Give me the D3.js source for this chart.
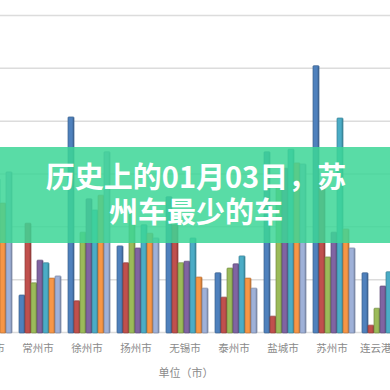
<!DOCTYPE html>
<html>
<head>
<meta charset="utf-8">
<script src="https://cdn.jsdelivr.net/npm/d3@7"></script>
<style>
  body { margin: 0; background: #fff; }
  svg { display: block; }
</style>
</head>
<body>
<svg id="chart"></svg>
<script>
var width = 390;
var height = 390;

// categories along the x axis (first and last are cut off in the picture)
var categories = ["南京市", "常州市", "徐州市", "扬州市", "无锡市", "泰州市", "盐城市", "苏州市", "连云港市"];
var seriesNames = ["系列1", "系列2", "系列3", "系列4", "系列5", "系列6", "系列7"];
var seriesColors = ["#4f81bd", "#c0504d", "#9bbb59", "#8064a2", "#4bacc6", "#f79646", "#9fb1d8"];

var s1 = [250, 70, 407, 163, 256, 112, 341, 504, 112];
var s2 = [120, 206, 59, 131, 203, 66, 30, 278, 13];
var s3 = [200, 93, 189, 227, 131, 121, 278, 142, 45];
var s4 = [180, 136, 252, 159, 134, 129, 310, 189, 87];
var s5 = [290, 131, 231, 203, 178, 144, 346, 405, 114];
var s6 = [244, 102, 259, 187, 104, 102, 320, 195, 130];
var s7 = [303, 106, 341, 178, 83, 83, 318, 159, 100];
var seriesValues = [s1, s2, s3, s4, s5, s6, s7];

var yTicks = [0, 100, 200, 300, 400, 500, 600];
var unitLabel = "单位（市）";
var titleLines = ["历史上的01月03日，苏", "州车最少的车"];

var svg = d3.select("#chart")
    .attr("width", width)
    .attr("height", height);

var x = d3.scaleBand()
    .domain(categories)
    .range([-33.5, 407.5]);

var xInner = d3.scaleBand()
    .domain(seriesNames)
    .range([3.5, x.bandwidth() - 3.5]);

var y = d3.scaleLinear()
    .domain([0, 600])
    .range([332, 15]);

// gridlines
var grid = svg.append("g")
    .attr("transform", "translate(0,0)")
    .call(d3.axisLeft(y).tickValues(yTicks).tickSize(-width).tickFormat(""));
grid.select(".domain").remove();
grid.selectAll("line")
    .attr("stroke", "#dcdcdc")
    .attr("stroke-width", 1.5);

// bars
var rows = [];
categories.forEach(function(c, i) {
    seriesNames.forEach(function(s, j) {
        rows.push({cat: c, series: s, value: seriesValues[j][i], color: seriesColors[j]});
    });
});

var bars = svg.append("g").selectAll("g")
    .data(rows)
    .enter().append("g")
    .attr("transform", function(d) {
        return "translate(" + (x(d.cat) + xInner(d.series)) + ",0)";
    });

bars.append("rect")
    .attr("x", 0)
    .attr("y", function(d) { return y(d.value); })
    .attr("width", xInner.bandwidth())
    .attr("height", function(d) { return y(0) - y(d.value) + 1; })
    .attr("rx", 0.8)
    .attr("fill", function(d) { return d.color; })
    .attr("stroke", function(d) { return d3.color(d.color).darker(0.9); })
    .attr("stroke-width", 0.7);

// darker right edge for the 3d look
bars.append("rect")
    .attr("x", xInner.bandwidth() - 1.3)
    .attr("y", function(d) { return y(d.value) + 1; })
    .attr("width", 1.3)
    .attr("height", function(d) { return y(0) - y(d.value); })
    .attr("fill", function(d) { return d3.color(d.color).darker(0.7); });

// x labels
svg.append("g").selectAll("text")
    .data(categories)
    .enter().append("text")
    .attr("x", function(d) { return x(d) + x.bandwidth() / 2 - 2; })
    .attr("y", 352)
    .attr("text-anchor", "middle")
    .attr("font-family", "Noto Sans CJK SC")
    .attr("font-size", 10.5)
    .attr("fill", "#8a8a8a")
    .text(function(d) { return d; });

svg.append("text")
    .attr("x", 186)
    .attr("y", 377)
    .attr("text-anchor", "middle")
    .attr("font-family", "Noto Sans CJK SC")
    .attr("font-size", 11)
    .attr("fill", "#8a8a8a")
    .text(unitLabel);

// green banner with the title
svg.append("rect")
    .attr("x", 0)
    .attr("y", 147)
    .attr("width", width)
    .attr("height", 96)
    .attr("fill", "rgb(60,214,150)")
    .attr("fill-opacity", 0.85);

svg.append("g").selectAll("text")
    .data(titleLines)
    .enter().append("text")
    .attr("x", 196)
    .attr("y", function(d, i) { return 188 + i * 35; })
    .attr("text-anchor", "middle")
    .attr("font-family", "Noto Sans CJK SC")
    .attr("font-weight", 700)
    .attr("font-size", 29)
    .attr("fill", "#fff")
    .text(function(d) { return d; });
</script>
</body>
</html>
